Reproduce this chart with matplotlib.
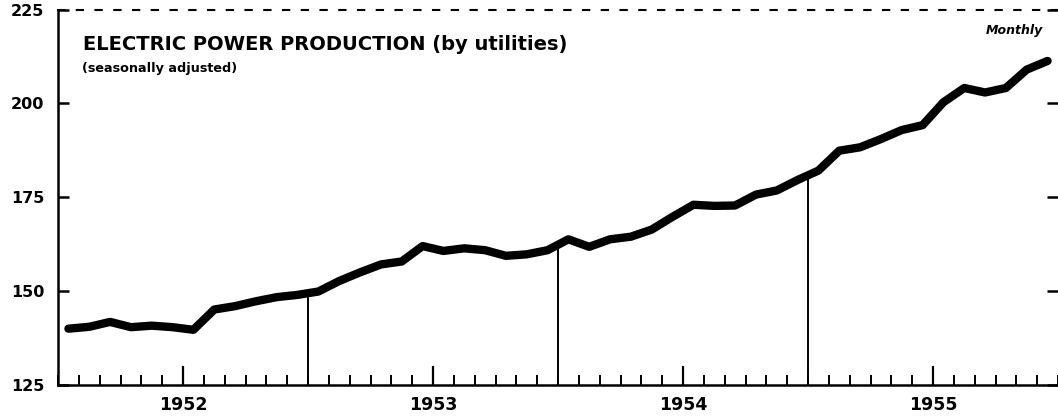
import matplotlib.pyplot as plt
import numpy as np

# monthly values, Jan 1952 - Dec 1955
power = [140.0, 140.5, 141.8, 140.4, 140.8, 140.4, 139.7, 145.1, 146.0, 147.3, 148.4, 149.0,
         149.9, 152.7, 155.0, 157.1, 157.9, 162.0, 160.7, 161.4, 160.9, 159.4, 159.8, 160.9,
         163.8, 161.8, 163.8, 164.5, 166.4, 169.8, 173.0, 172.7, 172.8, 175.7, 176.8, 179.6,
         182.1, 187.4, 188.3, 190.5, 192.9, 194.2, 200.3, 204.1, 202.9, 204.1, 209.0, 211.3]
years = [1952, 1953, 1954, 1955]
year_marks = [1953, 1954, 1955]

x = 1952 + (np.arange(len(power)) + 0.5) / 12.0

plt.rcParams['font.family'] = ['DejaVu Sans']
fig = plt.figure(figsize=(10.58, 4.16), dpi=100)
ax = fig.add_axes([58 / 1058, 31 / 416, 1 - 58 / 1058, 375.5 / 416])

ax.plot(x, power, color='black', linewidth=6, solid_capstyle='round', solid_joinstyle='round')

# thin verticals at year boundaries, from the base up to the curve
for yr in year_marks:
    ax.vlines(yr, 125, np.interp(yr, x, power), color='black', linewidth=1.4)

ax.set_xlim(1952, 1955.98)
ax.set_ylim(125, 225)

ax.spines['right'].set_visible(False)
ax.spines['top'].set_linestyle((0, (3, 6)))
ax.spines['top'].set_linewidth(1.5)
ax.spines['left'].set_linewidth(1.8)
ax.spines['bottom'].set_linewidth(1.8)

ax.set_yticks([125, 150, 175, 200, 225])
ax.set_yticklabels(['125', '150', '175', '200', '225'], fontsize=11.5, fontweight='bold')
ax.tick_params(axis='y', direction='in', length=8, width=1.8, pad=10, right=True)

ax.set_xticks([y + 0.5 for y in years])
ax.set_xticklabels([str(y) for y in years], fontsize=12.5, fontweight='bold')
ax.set_xticks(np.arange(1952, 1956.01, 1 / 12.0), minor=True)
ax.tick_params(axis='x', which='major', direction='in', length=14, width=1.6, pad=8)
ax.tick_params(axis='x', which='minor', direction='in', length=7, width=1.4)

ax.text(0.025, 0.906, 'ELECTRIC POWER PRODUCTION (by utilities)', transform=ax.transAxes,
        fontsize=14, fontweight='bold', va='center', ha='left')
ax.text(0.024, 0.842, '(seasonally adjusted)', transform=ax.transAxes,
        fontsize=9.2, fontweight='bold', va='center', ha='left')
ax.text(0.985, 0.945, 'Monthly', transform=ax.transAxes,
        fontsize=9, fontweight='bold', style='italic', va='center', ha='right')

fig.savefig('out.png', dpi=100)
